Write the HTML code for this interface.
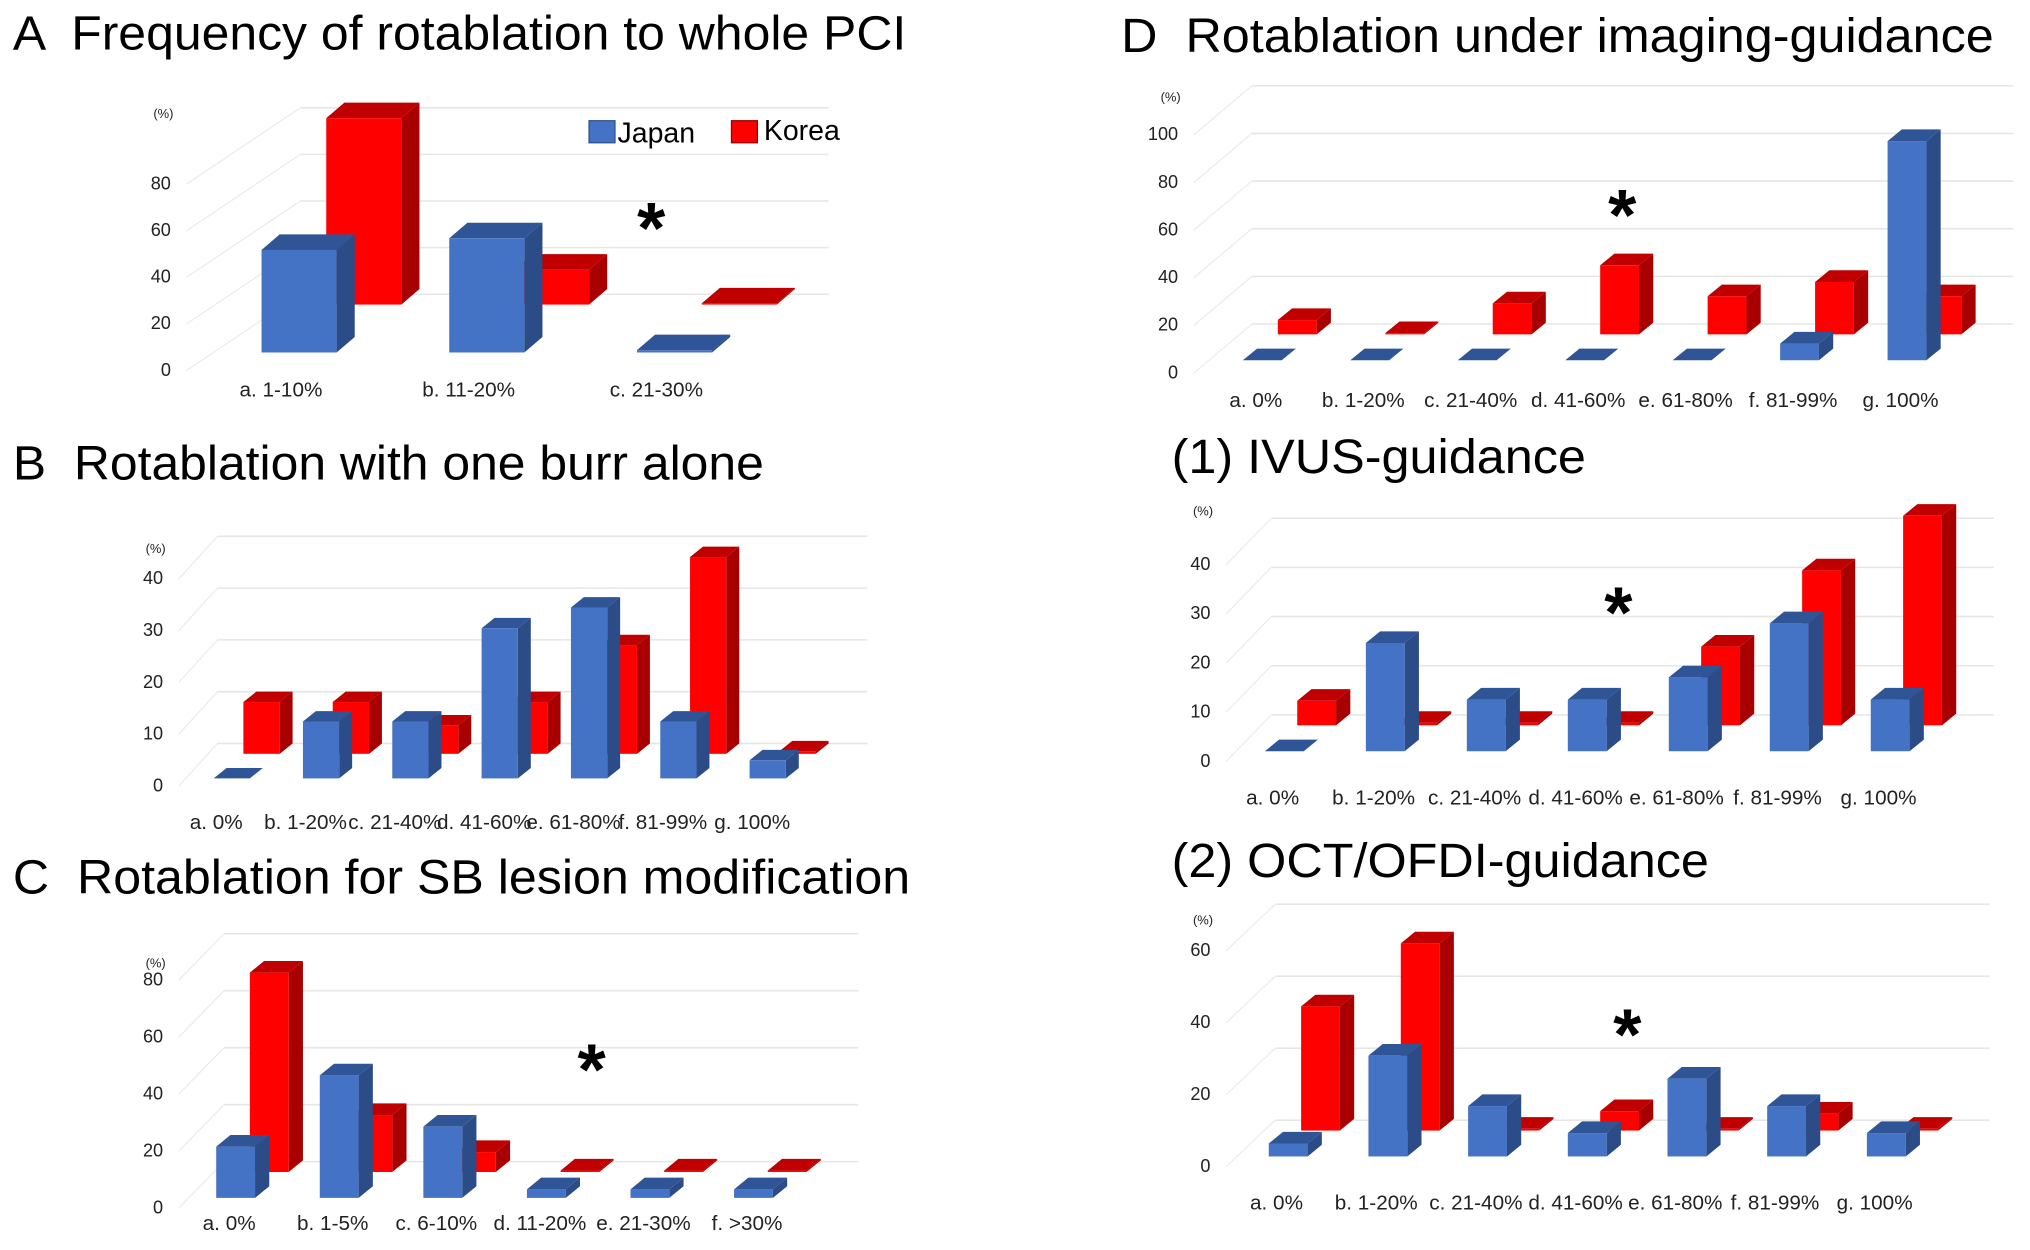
<!DOCTYPE html>
<html><head><meta charset="utf-8">
<style>
html,body{margin:0;padding:0;background:#fff;}
svg{display:block;font-family:"Liberation Sans",Arial,sans-serif;}
.ttl{white-space:pre;}
</style></head>
<body>
<svg id="fig" width="2030" height="1250" viewBox="0 0 1568 965" xmlns="http://www.w3.org/2000/svg" xml:space="preserve">
<text class="ttl" x="10" y="38" font-size="37" textLength="690" lengthAdjust="spacingAndGlyphs">A  Frequency of rotablation to whole PCI</text>
<text class="ttl" x="10" y="370" font-size="37" textLength="580" lengthAdjust="spacingAndGlyphs">B  Rotablation with one burr alone</text>
<text class="ttl" x="10" y="690" font-size="37" textLength="693" lengthAdjust="spacingAndGlyphs">C  Rotablation for SB lesion modification</text>
<text class="ttl" x="866" y="40" font-size="37" textLength="674" lengthAdjust="spacingAndGlyphs">D  Rotablation under imaging-guidance</text>
<text class="ttl" x="905" y="365" font-size="37" textLength="320" lengthAdjust="spacingAndGlyphs">(1) IVUS-guidance</text>
<text class="ttl" x="905" y="677" font-size="37" textLength="415" lengthAdjust="spacingAndGlyphs">(2) OCT/OFDI-guidance</text>
<g>
<rect x="455" y="93" width="20" height="17" fill="#4472C4" stroke="#2F528F"/>
<text x="477" y="110" font-size="22">Japan</text>
<rect x="565" y="93" width="20" height="17" fill="#FF0000" stroke="#900"/>
<text x="590" y="108" font-size="22">Korea</text>
</g>
</svg>
<script>
// Panel A
const catsA = ["a. 1-10%", "b. 11-20%", "c. 21-30%"];
const japanA = [44, 49, 1];
const koreaA = [80, 15, 0.5];
const ticksA = [0, 20, 40, 60, 80];
// Panel B
const catsB = ["a. 0%", "b. 1-20%", "c. 21-40%", "d. 41-60%", "e. 61-80%", "f. 81-99%", "g. 100%"];
const japanB = [0, 11, 11, 29, 33, 11, 3.5];
const koreaB = [10, 10, 5.5, 10, 21, 38, 0.5];
const ticksB = [0, 10, 20, 30, 40];
// Panel C
const catsC = ["a. 0%", "b. 1-5%", "c. 6-10%", "d. 11-20%", "e. 21-30%", "f. >30%"];
const japanC = [18, 43, 25, 3, 3, 3];
const koreaC = [70, 20, 7, 0.5, 0.5, 0.5];
const ticksC = [0, 20, 40, 60, 80];
// Panel D
const catsD = ["a. 0%", "b. 1-20%", "c. 21-40%", "d. 41-60%", "e. 61-80%", "f. 81-99%", "g. 100%"];
const japanD = [0, 0, 0, 0, 0, 7, 92];
const koreaD = [6, 0.5, 13, 29, 16, 22, 16];
const ticksD = [0, 20, 40, 60, 80, 100];
// Panel D1 IVUS
const catsE = ["a. 0%", "b. 1-20%", "c. 21-40%", "d. 41-60%", "e. 61-80%", "f. 81-99%", "g. 100%"];
const japanE = [0, 22, 10.5, 10.5, 15, 26, 10.5];
const koreaE = [5, 0.5, 0.5, 0.5, 16, 31.5, 42.6];
const ticksE = [0, 10, 20, 30, 40];
// Panel D2 OCT/OFDI
const catsF = ["a. 0%", "b. 1-20%", "c. 21-40%", "d. 41-60%", "e. 61-80%", "f. 81-99%", "g. 100%"];
const japanF = [3.6, 28, 14, 6.5, 21.6, 14, 6.5];
const koreaF = [34.5, 52, 0.5, 5.4, 0.5, 4.7, 0.5];
const ticksF = [0, 20, 40, 60];

const NS = "http://www.w3.org/2000/svg";
const svg = document.getElementById("fig");
function mk(tag, attrs, parent) {
  const e = document.createElementNS(NS, tag);
  for (const k in attrs) e.setAttribute(k, attrs[k]);
  parent.appendChild(e);
  return e;
}
function drawPanel(id, cfg, cats, japan, korea, ticks) {
  const g = mk("g", {}, svg);
  
  
  const yB = v => cfg.base - v * cfg.scale;
  const yR = v => cfg.base + cfg.rdy - v * cfg.scale;
  const xB = i => cfg.x0 + i * cfg.sp;
  const xR = i => xB(i) + cfg.rdx;
  const endX = xR(cats.length - 1) + cfg.w + 40;
  ticks.forEach((t, k) => {
    const y = yR(t) - 8;
    const ln = mk("line", {x1: xR(0) - 20, x2: endX, y1: y, y2: y, stroke: "#e6e6e6", "stroke-width": 1.2}, g);
    
    
    const dg = mk("line", {x1: cfg.tx + 12, y1: yB(t) + cfg.toff - 4, x2: xR(0) - 20, y2: y, stroke: "#ececec", "stroke-width": 1}, g);
    
    
    const tl = mk("text", {x: cfg.tx, y: yB(t) + cfg.toff, "font-size": 14, "text-anchor": "end", fill: "#222"}, g);
    tl.textContent = t;
    
    
  });
  const unit = mk("text", {x: cfg.tx + 2, y: cfg.unitY, "font-size": 10, "text-anchor": "end", fill: "#222"}, g);
  unit.textContent = "(%)";
  
  
  function bar(x, base, top, fc, tc, sc, name) {
    const w = cfg.w, dx = cfg.dx, dy = cfg.dy;
    const bg = mk("g", {}, g);
    
    
    mk("polygon", {points: `${x+w},${top} ${x+w+dx},${top+dy} ${x+w+dx},${base+dy} ${x+w},${base}`, fill: sc}, bg);
    mk("polygon", {points: `${x},${top} ${x+dx},${top+dy} ${x+w+dx},${top+dy} ${x+w},${top}`, fill: tc}, bg);
    mk("rect", {x: x, y: top, width: w, height: Math.max(base - top, 0.01), fill: fc}, bg);
  }
  korea.forEach((v, i) => bar(xR(i), yR(0), yR(v), "#FF0000", "#C00000", "#A80000", 'bar-korea-' + i));
  japan.forEach((v, i) => bar(xB(i), yB(0), yB(v), "#4472C4", "#2F5597", "#2B4C86", 'bar-japan-' + i));
  cats.forEach((c, i) => {
    const t = mk("text", {x: xB(i) + cfg.lo, y: cfg.labelY, "font-size": 16, "text-anchor": "middle", fill: "#222"}, g);
    t.textContent = c;
    
    
  });
  const st = mk("text", {x: cfg.ax, y: cfg.ay, "font-size": 56, "text-anchor": "middle", "font-weight": "bold"}, g);
  st.textContent = "*";
  
  
}
drawPanel("panel-a", {base: 272, scale: 1.8, x0: 202, sp: 145, w: 58, dx: 14, dy: -12, rdx: 50, rdy: -37, tx: 132, toff: 18, unitY: 91, labelY: 306, lo: 15, ax: 503, ay: 195}, catsA, japanA, koreaA, ticksA);
drawPanel("panel-b", {base: 601, scale: 4, x0: 165, sp: 69, w: 28, dx: 10, dy: -8, rdx: 23, rdy: -19, tx: 126, toff: 10, unitY: 427, labelY: 640, lo: 2, ax: -100, ay: -100}, catsB, japanB, koreaB, ticksB);
drawPanel("panel-c", {base: 925, scale: 2.2, x0: 167, sp: 80, w: 30, dx: 11, dy: -9, rdx: 26, rdy: -20, tx: 126, toff: 12, unitY: 747, labelY: 950, lo: 10, ax: 457, ay: 845}, catsC, japanC, koreaC, ticksC);
drawPanel("panel-d", {base: 278, scale: 1.84, x0: 960, sp: 83, w: 30, dx: 11, dy: -9, rdx: 27, rdy: -20, tx: 910, toff: 14, unitY: 78, labelY: 314, lo: 10, ax: 1253, ay: 185}, catsD, japanD, koreaD, ticksD);
drawPanel("panel-ivus", {base: 580, scale: 3.8, x0: 977, sp: 78, w: 30, dx: 11, dy: -9, rdx: 25, rdy: -20, tx: 935, toff: 12, unitY: 398, labelY: 621, lo: 6, ax: 1250, ay: 492}, catsE, japanE, koreaE, ticksE);
drawPanel("panel-oct", {base: 893, scale: 2.78, x0: 980, sp: 77, w: 30, dx: 11, dy: -9, rdx: 25, rdy: -20, tx: 935, toff: 12, unitY: 714, labelY: 934, lo: 6, ax: 1257, ay: 818}, catsF, japanF, koreaF, ticksF);
</script>
</body></html>
